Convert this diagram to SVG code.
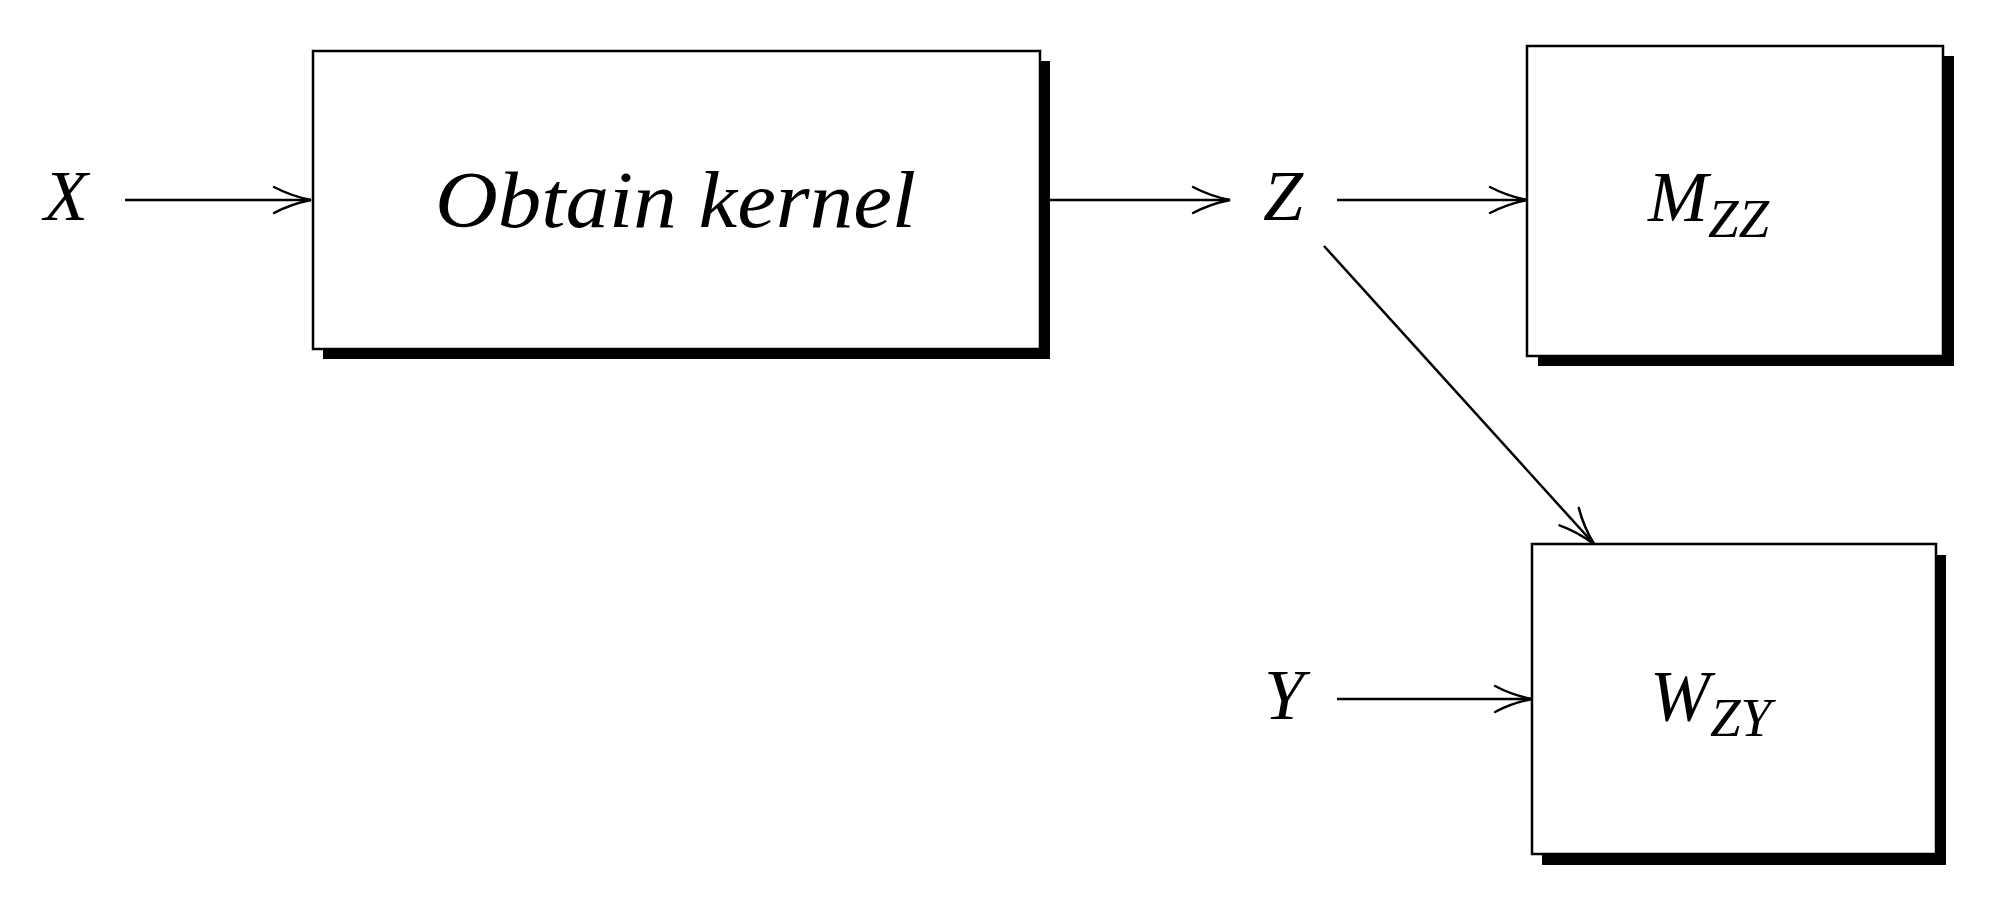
<svg xmlns="http://www.w3.org/2000/svg" width="1996" height="908" viewBox="0 0 1996 908">
<style>
.box{fill:#fff;stroke:#000;stroke-width:2.5}
.sh{fill:#000}
.t{font-family:"Liberation Serif",serif;font-style:italic;fill:#000}
.c{stroke:#000;stroke-width:2.5;fill:none}
.ah{stroke:#000;stroke-width:2.5;fill:none;stroke-linecap:round}
</style>
<defs>
<marker id="a" markerUnits="userSpaceOnUse" markerWidth="50" markerHeight="40" refX="40" refY="20" orient="auto" viewBox="0 0 50 40">
<path class="ah" d="M3,7 Q20,16 40,20 Q20,24 3,33"/>
</marker>
</defs>
<g id="connectors">
<line class="c" x1="125" y1="200" x2="311" y2="200" marker-end="url(#a)"/>
<line class="c" x1="1049" y1="200" x2="1230" y2="200" marker-end="url(#a)"/>
<line class="c" x1="1337" y1="200" x2="1527" y2="200" marker-end="url(#a)"/>
<line class="c" x1="1324" y1="246" x2="1594" y2="544" marker-end="url(#a)"/>
<line class="c" x1="1337" y1="699" x2="1532" y2="699" marker-end="url(#a)"/>
</g>
<g id="X"><text class="t" x="66" y="220" font-size="72" text-anchor="middle">X</text></g>
<g id="Z"><text class="t" x="1283" y="220" font-size="72" text-anchor="middle">Z</text></g>
<g id="Y"><text class="t" x="1284" y="719" font-size="72" text-anchor="middle">Y</text></g>
<g id="obtain">
<rect class="sh" x="323" y="61" width="727" height="298"/>
<rect class="box" x="313" y="51" width="727" height="298"/>
<text class="t" x="435" y="227" font-size="80" textLength="481" lengthAdjust="spacingAndGlyphs">Obtain kernel</text>
</g>
<g id="Mzz">
<rect class="sh" x="1538" y="56" width="416" height="310"/>
<rect class="box" x="1527" y="46" width="416" height="310"/>
<text class="t" x="1648" y="221" font-size="72">M<tspan font-size="55" dy="16">ZZ</tspan></text>
</g>
<g id="Wzy">
<rect class="sh" x="1542" y="555" width="404" height="310"/>
<rect class="box" x="1532" y="544" width="404" height="310"/>
<text class="t" x="1650" y="720" font-size="72">W<tspan font-size="55" dy="16">ZY</tspan></text>
</g>
</svg>
